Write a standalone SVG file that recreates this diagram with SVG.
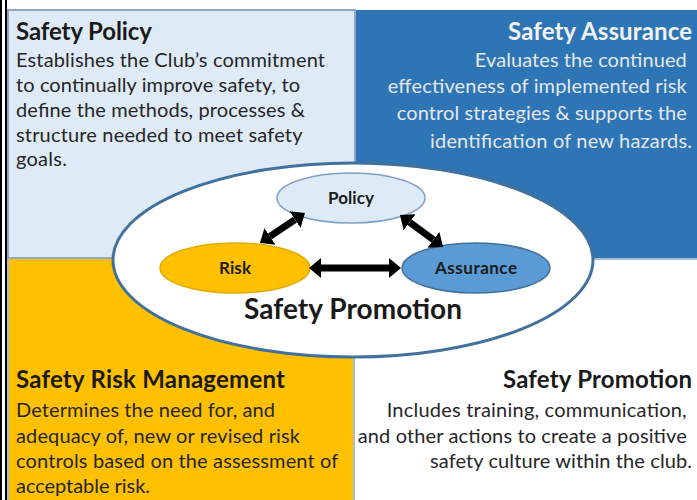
<svg xmlns="http://www.w3.org/2000/svg" width="697" height="500" viewBox="0 0 697 500">
<style>
text{font-family:Lato,"Liberation Sans",sans-serif}
.t{font-size:24px;font-weight:bold}
.b{font-size:20px}
.dk{fill:#262626}
.wt{fill:#F2F2F2}
.lab{font-size:17px;font-weight:bold;fill:#1a1a1a;text-anchor:middle}
.arr{stroke:#000;stroke-width:7;fill:none;marker-start:url(#ah);marker-end:url(#ah)}
</style>
<defs>
<marker id="ah" markerUnits="userSpaceOnUse" markerWidth="14" markerHeight="22" viewBox="0 -11 14 22" refX="0" refY="0" orient="auto-start-reverse">
<path d="M0,-10 L12,0 L0,10 z" fill="#000"/>
</marker>
</defs>
<rect width="697" height="500" fill="#fff"/>
<line x1="1" y1="0" x2="1" y2="500" stroke="#000" stroke-width="2"/>
<line x1="6" y1="0" x2="6" y2="500" stroke="#000" stroke-width="2"/>

<g id="safety-assurance">
<rect x="356" y="10" width="341" height="248" fill="#2E75B6"/>
<line x1="356" y1="259" x2="697" y2="259" stroke="#A9BCD0" stroke-width="2"/>
<text class="t wt" x="692" y="40" text-anchor="end" textLength="184">Safety Assurance</text>
<text class="b" fill="#E4E8EE" text-anchor="end">
<tspan x="692" y="67" textLength="212">Evaluates the continued</tspan>
<tspan x="692" y="93" textLength="299">effectiveness of implemented risk</tspan>
<tspan x="692" y="120" textLength="290">control strategies &amp; supports the</tspan>
<tspan x="692" y="148" textLength="262">identification of new hazards.</tspan>
</text>
</g>

<g id="safety-risk-management">
<rect x="8" y="258" width="346" height="244" fill="#FFC000" stroke="#A9BCD0" stroke-width="2"/>
<text class="t" fill="#1a1a1a" x="16" y="388" textLength="269">Safety Risk Management</text>
<text class="b" fill="#262626">
<tspan x="16" y="417" textLength="259">Determines the need for, and</tspan>
<tspan x="16" y="443" textLength="284">adequacy of, new or revised risk</tspan>
<tspan x="16" y="468" textLength="322">controls based on the assessment of</tspan>
<tspan x="16" y="493" textLength="134">acceptable risk.</tspan>
</text>
</g>

<g id="safety-policy">
<rect x="8" y="10" width="347" height="248" fill="#DEEBF7" stroke="#8FA9C4" stroke-width="2"/>
<text class="t" fill="#1a1a1a" x="16" y="40" textLength="136">Safety Policy</text>
<text class="b dk">
<tspan x="16" y="67" textLength="309">Establishes the Club’s commitment</tspan>
<tspan x="16" y="92" textLength="284">to continually improve safety, to</tspan>
<tspan x="16" y="117" textLength="289">define the methods, processes &amp;</tspan>
<tspan x="16" y="142" textLength="286">structure needed to meet safety</tspan>
<tspan x="16" y="166" textLength="51">goals.</tspan>
</text>
</g>

<g id="safety-promotion-quadrant">
<text class="t" fill="#1a1a1a" x="692" y="388" text-anchor="end" textLength="189">Safety Promotion</text>
<text class="b dk" text-anchor="end">
<tspan x="692" y="417" textLength="300">Includes training, communication,</tspan>
<tspan x="692" y="443" textLength="329">and other actions to create a positive</tspan>
<tspan x="692" y="468" textLength="262">safety culture within the club.</tspan>
</text>
</g>

<g id="safety-promotion-ellipse">
<ellipse cx="353" cy="260" rx="240" ry="97" fill="#fff" stroke="#41719C" stroke-width="3"/>
<text x="353" y="319" text-anchor="middle" font-size="28" font-weight="bold" fill="#1a1a1a" textLength="218">Safety Promotion</text>
</g>

<g id="policy">
<ellipse cx="351" cy="198" rx="74" ry="25" fill="#DEEBF7" stroke="#7F9FC6" stroke-width="1.5"/>
<text class="lab" x="351" y="204" textLength="46">Policy</text>
</g>
<g id="risk">
<ellipse cx="235" cy="268" rx="75" ry="25" fill="#FFC000" stroke="#E3AB00" stroke-width="1.5"/>
<text class="lab" x="235" y="274" textLength="32">Risk</text>
</g>
<g id="assurance">
<ellipse cx="476" cy="268" rx="74" ry="25" fill="#5B9BD5" stroke="#41719C" stroke-width="1.5"/>
<text class="lab" x="476" y="274" textLength="82">Assurance</text>
</g>

<g id="connectors">
<line class="arr" x1="295" y1="219.7" x2="270" y2="236.3"/>
<line class="arr" x1="409.6" y1="222.2" x2="433.4" y2="239.8"/>
<line class="arr" x1="321" y1="268" x2="389" y2="268"/>
</g>
</svg>
